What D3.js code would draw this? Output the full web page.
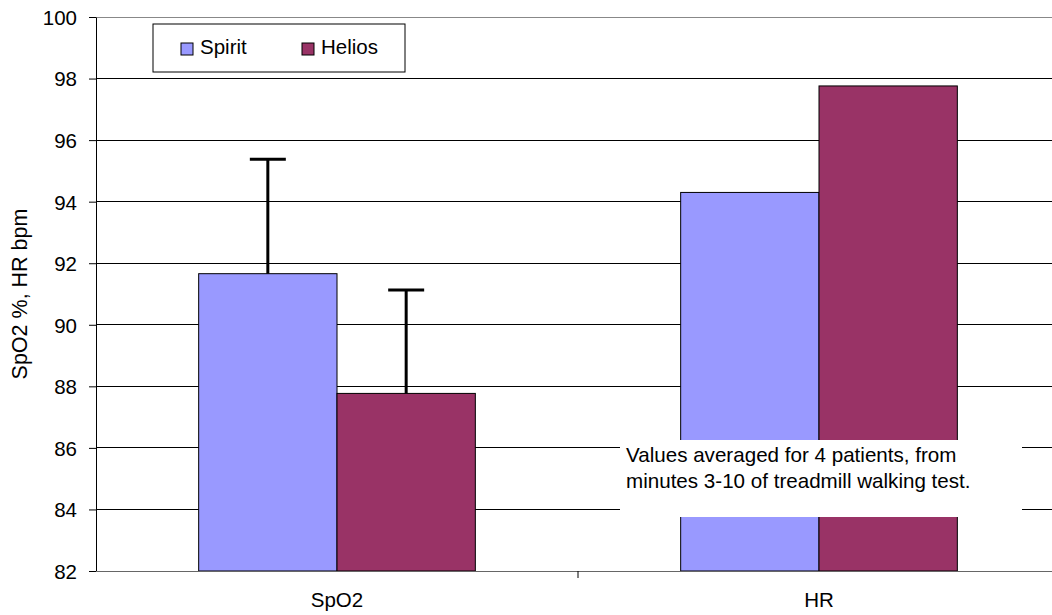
<!DOCTYPE html>
<html>
<head>
<meta charset="utf-8">
<script src="https://cdn.jsdelivr.net/npm/d3@7"></script>
<style>
  body { margin: 0; background: #fff; }
  svg { display: block; font-family: "Liberation Sans", Arial, sans-serif; }
</style>
</head>
<body>
<div id="chart"></div>
<script>
// chart data
var categories = ["SpO2", "HR"];
var seriesNames = ["Spirit", "Helios"];
var spiritValues = [91.66, 94.3];
var heliosValues = [87.77, 97.76];
var spiritErrors = [3.72, null];
var heliosErrors = [3.36, null];
var yTicks = [82, 84, 86, 88, 90, 92, 94, 96, 98, 100];
var colors = ["#9999FF", "#993366"];

var width = 1052, height = 615;
var margin = {left: 96, top: 17, right: -8, bottom: 44};

var svg = d3.select("#chart").append("svg")
    .attr("width", width)
    .attr("height", height);

var plotW = width - margin.left - margin.right;
var plotH = height - margin.top - margin.bottom;

var g = svg.append("g")
    .attr("transform", "translate(" + margin.left + "," + margin.top + ")");

// scales
var x = d3.scaleBand().domain(categories).range([0, plotW]).paddingInner(0).paddingOuter(0);
var groupPad = 0.213;
var xInner = d3.scaleBand().domain(seriesNames)
    .range([x.bandwidth() * groupPad, x.bandwidth() * (1 - groupPad)]);
var y = d3.scaleLinear().domain([82, 100]).range([plotH, 0]);

// gridlines
g.selectAll(".grid")
    .data(yTicks.filter(function (d) { return d > 82; }))
    .enter()
    .append("line")
    .attr("x1", 0)
    .attr("x2", plotW)
    .attr("y1", function (d) { return y(d); })
    .attr("y2", function (d) { return y(d); })
    .attr("stroke", function (d) { return d === 100 ? "#888" : "#000"; })
    .attr("stroke-width", 1)
    .attr("shape-rendering", "crispEdges");

// bars
var rows = categories.map(function (c, i) {
    return [
        {cat: c, name: "Spirit", v: spiritValues[i], e: spiritErrors[i], color: colors[0]},
        {cat: c, name: "Helios", v: heliosValues[i], e: heliosErrors[i], color: colors[1]}
    ];
});
var flat = [].concat.apply([], rows);

g.selectAll(".bar")
    .data(flat)
    .enter()
    .append("rect")
    .attr("x", function (d) { return x(d.cat) + xInner(d.name); })
    .attr("y", function (d) { return y(d.v); })
    .attr("width", xInner.bandwidth())
    .attr("height", function (d) { return y(82) - y(d.v); })
    .attr("fill", function (d) { return d.color; })
    .attr("stroke", "#000")
    .attr("stroke-width", 1);

// error bars (upper only)
var errs = flat.filter(function (d) { return d.e != null; });
var capHalf = 18;
errs.forEach(function (d) {
    var cx = x(d.cat) + xInner(d.name) + xInner.bandwidth() / 2;
    g.append("line")
        .attr("x1", cx).attr("x2", cx)
        .attr("y1", y(d.v)).attr("y2", y(d.v + d.e))
        .attr("stroke", "#000").attr("stroke-width", 3);
    g.append("line")
        .attr("x1", cx - capHalf).attr("x2", cx + capHalf)
        .attr("y1", y(d.v + d.e)).attr("y2", y(d.v + d.e))
        .attr("stroke", "#000").attr("stroke-width", 3);
});

// y axis
var yAxis = g.append("g")
    .call(d3.axisLeft(y).tickValues(yTicks).tickSize(7).tickSizeOuter(0).tickFormat(d3.format("d")));
yAxis.select(".domain").attr("stroke", "#000");
yAxis.selectAll(".tick line").attr("stroke", "#000");
yAxis.selectAll("text")
    .attr("x", -19)
    .attr("dy", "0.36em")
    .style("font-size", "20.5px")
    .style("font-family", "Liberation Sans, Arial, sans-serif")
    .attr("fill", "#000");

// x axis
var xAxis = g.append("g")
    .attr("transform", "translate(0," + plotH + ")")
    .call(d3.axisBottom(x).tickSize(0).tickSizeOuter(0));
xAxis.select(".domain").attr("stroke", "#666");
xAxis.selectAll("text")
    .attr("y", 36)
    .attr("dy", "0")
    .style("font-size", "20.5px")
    .style("font-family", "Liberation Sans, Arial, sans-serif")
    .attr("fill", "#000");
// tick between categories
g.selectAll(".xtick")
    .data(categories.slice(1))
    .enter()
    .append("line")
    .attr("x1", function (d) { return x(d); })
    .attr("x2", function (d) { return x(d); })
    .attr("y1", plotH)
    .attr("y2", plotH + 7)
    .attr("stroke", "#000");

// y axis title
svg.append("text")
    .attr("transform", "translate(27," + (margin.top + 277) + ") rotate(-90)")
    .attr("text-anchor", "middle")
    .style("font-size", "21.5px")
    .text("SpO2 %, HR bpm");

// legend
var legend = svg.append("g").attr("transform", "translate(153,24)");
legend.append("rect")
    .attr("width", 252).attr("height", 48)
    .attr("fill", "#fff").attr("stroke", "#000").attr("stroke-width", 1);
var legendX = [28, 149];
seriesNames.forEach(function (name, i) {
    legend.append("rect")
        .attr("x", legendX[i]).attr("y", 19)
        .attr("width", 12).attr("height", 12)
        .attr("fill", colors[i]).attr("stroke", "#000");
    legend.append("text")
        .attr("x", legendX[i] + 19).attr("y", 30)
        .style("font-size", "20.5px")
        .text(name);
});

// annotation
var note = svg.append("g").attr("transform", "translate(620,440)");
note.append("rect").attr("width", 402).attr("height", 77).attr("fill", "#fff");
note.append("text").attr("x", 6).attr("y", 22).style("font-size", "20.6px")
    .text("Values averaged for 4 patients, from");
note.append("text").attr("x", 6).attr("y", 48).style("font-size", "20.6px")
    .text("minutes 3-10 of treadmill walking test.");
</script>
</body>
</html>
